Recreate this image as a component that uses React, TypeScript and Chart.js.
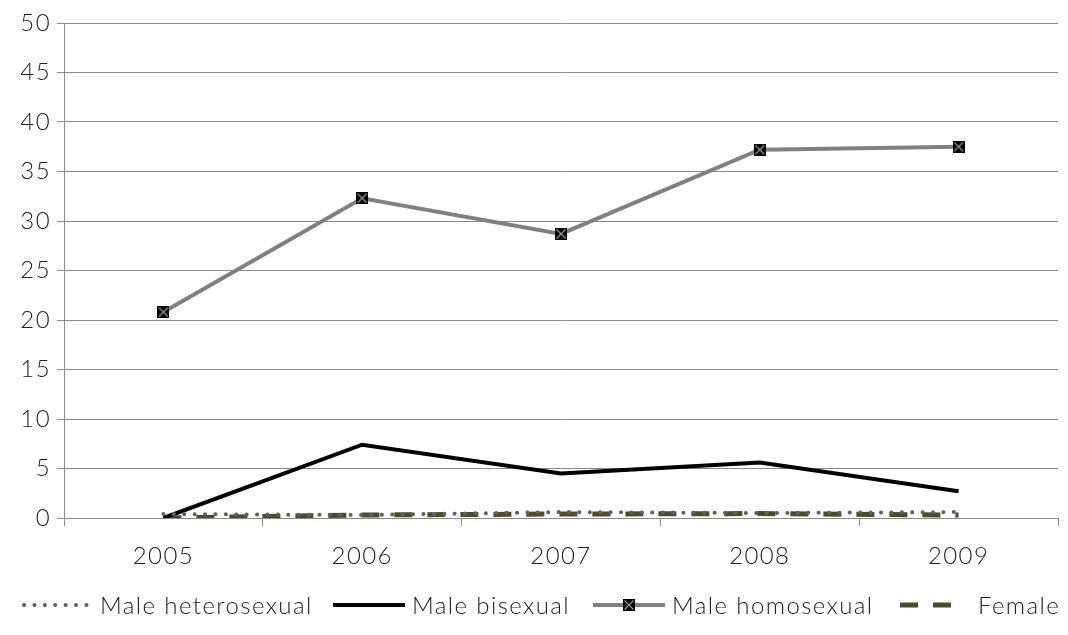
import React, { useEffect, useRef } from "react";
import { Chart, registerables } from "chart.js";
Chart.register(...registerables);

const years = ["2005", "2006", "2007", "2008", "2009"];
const maleHetero = [0.4, 0.3, 0.6, 0.5, 0.6];
const maleBi = [0, 7.4, 4.5, 5.6, 2.7];
const maleHomo = [20.8, 32.3, 28.7, 37.2, 37.5];
const female = [0, 0.3, 0.4, 0.45, 0.3];
const legendLabels = ["Male heterosexual", "Male bisexual", "Male homosexual", "Female"];

const FONT_FAMILY = "Lato, 'Open Sans', sans-serif";
const FONT_SIZE = 24;
const FONT_WEIGHT = 300;
const LETTER_SPACING = "1.4px";

function makeMarker(): HTMLCanvasElement {
  const c = document.createElement("canvas");
  c.width = 12;
  c.height = 12;
  const g = c.getContext("2d")!;
  g.fillStyle = "#000";
  g.fillRect(0, 0, 12, 12);
  g.strokeStyle = "#9a9a9a";
  g.lineWidth = 1.2;
  g.beginPath();
  g.moveTo(1.5, 1.5);
  g.lineTo(10.5, 10.5);
  g.moveTo(10.5, 1.5);
  g.lineTo(1.5, 10.5);
  g.stroke();
  return c;
}

export default function App() {
  const ref = useRef<HTMLCanvasElement>(null);
  useEffect(() => {
    const canvas = ref.current!;
    const marker = makeMarker();
    const styles = [
      { color: "#606060", width: 4, dash: [0.1, 10.3], cap: "round" as CanvasLineCap, marker: false },
      { color: "#000000", width: 4, dash: [] as number[], cap: "butt" as CanvasLineCap, marker: false },
      { color: "#808080", width: 4, dash: [] as number[], cap: "butt" as CanvasLineCap, marker: true },
      { color: "#4f4a2c", width: 5, dash: [18, 15], cap: "butt" as CanvasLineCap, marker: false },
    ];
    const sampleX = [24, 333, 593, 900];
    const textX = [100, 412, 672, 978];
    const sampleW = [63, 72, 72, 52];

    const legendPlugin = {
      id: "customLegend",
      beforeDraw(chart: any) {
        (chart.ctx as any).letterSpacing = LETTER_SPACING;
      },
      afterDraw(chart: any) {
        const ctx = chart.ctx as CanvasRenderingContext2D;
        const y = 605;
        ctx.save();
        for (let i = 0; i < styles.length; i++) {
          const s = styles[i];
          ctx.beginPath();
          ctx.strokeStyle = s.color;
          ctx.lineWidth = s.width;
          ctx.lineCap = s.cap;
          ctx.setLineDash(s.dash);
          ctx.moveTo(sampleX[i], y);
          ctx.lineTo(sampleX[i] + sampleW[i], y);
          ctx.stroke();
          ctx.setLineDash([]);
          if (s.marker) {
            ctx.drawImage(marker, sampleX[i] + sampleW[i] / 2 - 6, y - 6);
          }
          ctx.fillStyle = "#222";
          ctx.font = `${FONT_WEIGHT} ${FONT_SIZE}px ${FONT_FAMILY}`;
          (ctx as any).letterSpacing = LETTER_SPACING;
          ctx.textBaseline = "middle";
          ctx.textAlign = "left";
          ctx.fillText(legendLabels[i], textX[i], y + 1);
        }
        ctx.restore();
      },
    };

    const tickFont = { family: FONT_FAMILY, size: FONT_SIZE, weight: FONT_WEIGHT as any };

    const chart = new Chart(canvas, {
      type: "line",
      data: {
        labels: years,
        datasets: [
          {
            label: legendLabels[0],
            data: maleHetero,
            borderColor: styles[0].color,
            borderWidth: styles[0].width,
            borderDash: styles[0].dash,
            borderCapStyle: "round",
            pointRadius: 0,
            tension: 0,
          },
          {
            label: legendLabels[1],
            data: maleBi,
            borderColor: styles[1].color,
            borderWidth: styles[1].width,
            pointRadius: 0,
            tension: 0,
          },
          {
            label: legendLabels[2],
            data: maleHomo,
            borderColor: styles[2].color,
            borderWidth: styles[2].width,
            pointStyle: marker as any,
            pointRadius: 6,
            tension: 0,
          },
          {
            label: legendLabels[3],
            data: female,
            borderColor: styles[3].color,
            borderWidth: styles[3].width,
            borderDash: styles[3].dash,
            pointRadius: 0,
            tension: 0,
          },
        ],
      },
      options: {
        animation: false,
        responsive: false,
        devicePixelRatio: 1,
        layout: { padding: { left: 0, right: 2, top: 23, bottom: 70 } },
        plugins: { legend: { display: false }, tooltip: { enabled: false } },
        scales: {
          x: {
            offset: true,
            grid: {
              offset: true,
              drawOnChartArea: false,
              drawTicks: true,
              tickLength: 8,
              color: "#8a8a8a",
            },
            border: { display: false },
            ticks: {
              padding: 16,
              color: "#222",
              font: tickFont,
            },
            afterFit: (s: any) => {
              s.height = 47;
            },
          },
          y: {
            min: 0,
            max: 50,
            ticks: {
              stepSize: 5,
              padding: 6,
              color: "#222",
              font: tickFont,
            },
            grid: { color: "#8a8a8a", tickLength: 7, lineWidth: 1 },
            border: { display: true, color: "#8a8a8a" },
            afterFit: (s: any) => {
              s.width = 64;
            },
          },
        },
      },
      plugins: [legendPlugin],
    });
    return () => chart.destroy();
  }, []);
  return (
    <div style={{ position: "absolute", left: 0, top: 0, width: 1068, height: 635, background: "#fff" }}>
      <canvas ref={ref} width={1068} height={635} />
    </div>
  );
}
